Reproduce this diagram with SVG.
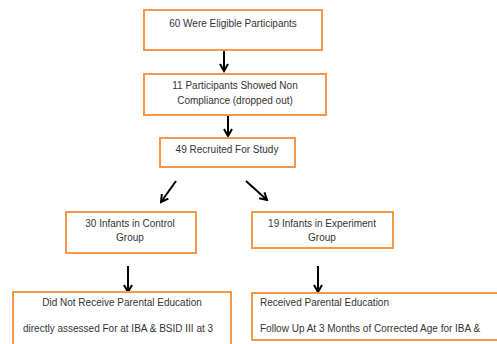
<svg xmlns="http://www.w3.org/2000/svg" width="497" height="344" viewBox="0 0 497 344">
<style>
.box{fill:#fff;stroke:#f79646;stroke-width:2}
.t{font-family:"Liberation Sans",Arial,sans-serif;font-size:10px;fill:#333}
.c{text-anchor:middle}
.a{stroke:#000;stroke-width:2;fill:none;marker-end:url(#ah)}
</style>
<defs>
<marker id="ah" viewBox="0 0 10 10" refX="8" refY="5" markerWidth="5" markerHeight="5" orient="auto" markerUnits="strokeWidth">
<path d="M1,1 L8,5 L1,9" fill="none" stroke="#000" stroke-width="2"/>
</marker>
</defs>
<rect width="497" height="344" fill="#fff"/>
<g id="connectors">
<line class="a" x1="224" y1="51" x2="224" y2="71"/>
<line class="a" x1="228" y1="116" x2="228" y2="136"/>
<line class="a" x1="176" y1="181" x2="161" y2="202"/>
<line class="a" x1="246" y1="181" x2="267" y2="200"/>
<line class="a" x1="128" y1="266" x2="128" y2="292"/>
<line class="a" x1="318" y1="266" x2="318" y2="292"/>
</g>
<g id="n1"><rect class="box" x="144" y="10" width="178" height="40"/><text class="t c" x="233" y="27">60 Were Eligible Participants</text></g>
<g id="n2"><rect class="box" x="144" y="74" width="182" height="41"/><text class="t c" x="235" y="89">11 Participants Showed Non</text><text class="t c" x="235" y="104">Compliance (dropped out)</text></g>
<g id="n3"><rect class="box" x="160" y="138" width="135" height="29"/><text class="t c" x="227" y="153">49 Recruited For Study</text></g>
<g id="n4"><rect class="box" x="66" y="212" width="130" height="41"/><text class="t c" x="130" y="227">30 Infants in Control</text><text class="t c" x="130" y="241">Group</text></g>
<g id="n5"><rect class="box" x="252" y="212" width="141" height="36"/><text class="t c" x="322" y="227">19 Infants in Experiment</text><text class="t c" x="322" y="241">Group</text></g>
<g id="n6"><rect class="box" x="13" y="292" width="218" height="60"/><text class="t c" x="122" y="306">Did Not Receive Parental Education</text><text class="t" x="23" y="332">directly assessed For at IBA &amp; BSID III at 3</text></g>
<g id="n7"><rect class="box" x="252" y="293" width="250" height="47"/><text class="t" x="260" y="306">Received Parental Education</text><text class="t" x="260" y="332">Follow Up At 3 Months of Corrected Age for IBA &amp;</text></g>
</svg>
